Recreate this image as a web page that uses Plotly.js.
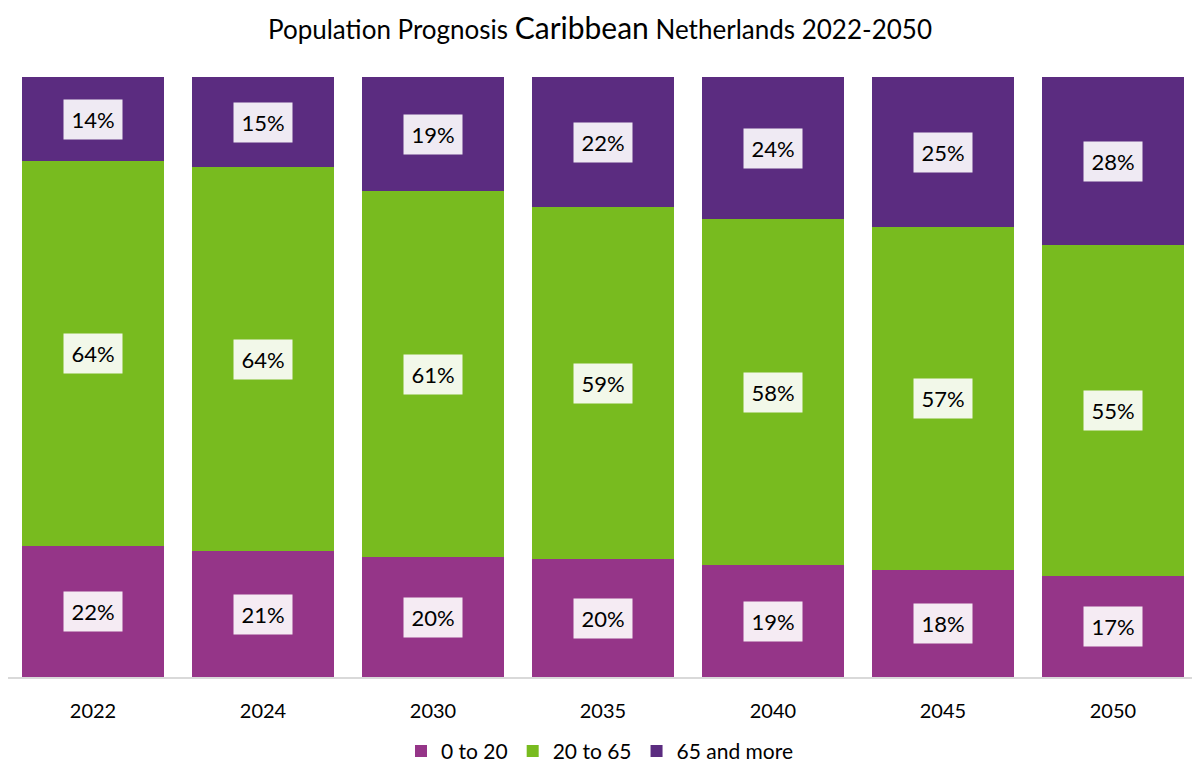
<!DOCTYPE html>
<html>
<head>
<meta charset="utf-8">
<script src="https://cdn.plot.ly/plotly-3.0.1.min.js"></script>
<style>html,body{margin:0;padding:0;background:#fff;}#chart{width:1192px;height:773px;}</style>
</head>
<body>
<div id="chart"></div>
<script>
const years = ["2022", "2024", "2030", "2035", "2040", "2045", "2050"];
const seriesNames = ["0 to 20", "20 to 65", "65 and more"];
const age0to20 = [21.8, 21.0, 20.0, 19.6, 18.6, 17.8, 16.8];
const age20to65 = [64.2, 64.0, 61.0, 58.7, 57.7, 57.2, 55.2];
const age65plus = [14.0, 15.0, 19.0, 21.7, 23.7, 25.0, 28.0];
const colors = ["#953588", "#78BB1F", "#5B2C80"];

const allSeries = [age0to20, age20to65, age65plus];
const font = "Lato, 'Open Sans', sans-serif";

const traces = allSeries.map((vals, k) => ({
  type: "bar",
  x: years,
  y: vals,
  name: seriesNames[k],
  marker: {color: colors[k], line: {width: 0}},
  hoverinfo: "none"
}));

const annotations = [];
years.forEach((yr, i) => {
  let base = 0;
  allSeries.forEach((vals) => {
    const v = vals[i];
    annotations.push({
      x: i, y: base + v / 2, xref: "x", yref: "y",
      text: Math.round(v) + "%",
      showarrow: false,
      font: {family: font, size: 22, color: "#000"},
      bgcolor: "rgba(255,255,255,0.9)",
      width: 46, height: 27, borderpad: 6,
      align: "center", valign: "middle"
    });
    base += v;
  });
});

const layout = {
  width: 1192, height: 773,
  barmode: "stack",
  bargap: 0.165,
  paper_bgcolor: "#fff", plot_bgcolor: "#fff",
  margin: {l: 8, r: 0, t: 77, b: 96},
  title: {
    text: "Population Prognosis <span style='font-size:30px'>Caribbean</span> Netherlands 2022-2050",
    font: {family: font, size: 26, color: "#000"},
    x: 0.5, xref: "paper", xanchor: "center",
    y: 1 - 30 / 773, yref: "container", yanchor: "middle"
  },
  xaxis: {
    type: "category",
    range: [-0.5, 6.465],
    showgrid: false, zeroline: false,
    showline: true, linecolor: "#d9d9d9", linewidth: 1.5,
    ticks: "", ticklabelstandoff: 15,
    tickfont: {family: font, size: 20, color: "#000"},
    fixedrange: true
  },
  yaxis: {
    range: [0, 100], visible: false, showgrid: false, zeroline: false, fixedrange: true
  },
  showlegend: true,
  legend: {
    orientation: "h", x: 0.5, xanchor: "center", y: -0.158, yanchor: "bottom",
    font: {family: font, size: 21, color: "#000"},
    traceorder: "normal", itemwidth: 30
  },
  annotations: annotations
};

Plotly.newPlot("chart", traces, layout, {displayModeBar: false, staticPlot: true});
</script>
</body>
</html>
